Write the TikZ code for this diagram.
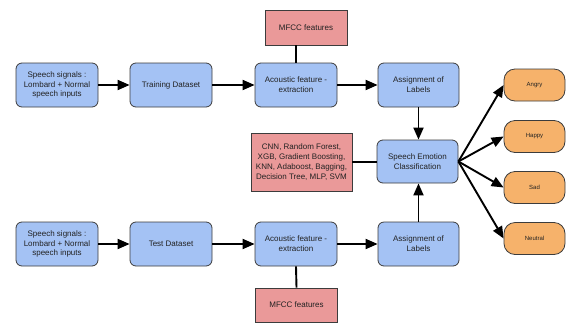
\documentclass[tikz,border=0pt]{standalone}
\usepackage{fontspec}
\setmainfont{Liberation Sans}
\usetikzlibrary{arrows.meta}
\definecolor{bluefill}{HTML}{A4C2F4}
\definecolor{redfill}{HTML}{EA9999}
\definecolor{orangefill}{HTML}{F6B26B}
\definecolor{edgegray}{HTML}{3C3C3C}
\definecolor{txt}{HTML}{222222}
\begin{document}
\begin{tikzpicture}[x=1pt,y=-1pt,
  bluebox/.style={draw=edgegray,line width=0.8pt,fill=bluefill,rounded corners=6pt,
    minimum width=82pt,minimum height=44pt,align=center,inner sep=1pt,
    font=\fontsize{8}{9.8}\selectfont,text=txt},
  redbox/.style={draw=edgegray,line width=0.8pt,fill=redfill,
    minimum width=82pt,minimum height=35pt,align=center,inner sep=1pt,
    font=\fontsize{8}{9.8}\selectfont,text=txt},
  emobox/.style={draw=edgegray,line width=0.8pt,fill=orangefill,rounded corners=11pt,
    minimum width=61pt,minimum height=32pt,align=center,inner sep=1pt,
    font=\fontsize{6}{7}\selectfont,text=txt},
  conn/.style={line width=1.9pt,black},
  arr/.style={conn,-{Triangle[length=12pt,width=10pt]}}]
\useasboundingbox (0,0) rectangle (568,325);
% top row
\node[bluebox] (s1) at (57,85) {Speech signals :\\Lombard + Normal\\speech inputs};
\node[bluebox] (td1) at (171,85) {Training Dataset};
\node[bluebox] (ac1) at (296,85) {Acoustic feature -\\extraction};
\node[bluebox,minimum width=81pt] (as1) at (418.5,85) {Assignment of\\Labels};
\node[redbox] (mf1) at (306,27.5) {MFCC features};
% middle
\node[redbox,minimum width=101pt,minimum height=58pt] (cnn) at (301.5,162) {CNN, Random Forest,\\XGB, Gradient Boosting,\\KNN, Adaboost, Bagging,\\Decision Tree, MLP, SVM};
\node[bluebox,minimum width=81pt,minimum height=43pt] (sec) at (417.5,161.5) {Speech Emotion\\Classification};
% bottom row
\node[bluebox] (s2) at (57,244) {Speech signals :\\Lombard + Normal\\speech inputs};
\node[bluebox] (td2) at (171,244) {Test Dataset};
\node[bluebox] (ac2) at (296,244) {Acoustic feature -\\extraction};
\node[bluebox,minimum width=81pt] (as2) at (418.5,244) {Assignment of\\Labels};
\node[redbox,minimum height=34pt] (mf2) at (296.5,305) {MFCC features};
% emotions
\node[emobox] (angry) at (534.5,85) {Angry};
\node[emobox] (happy) at (534.5,136.5) {Happy};
\node[emobox] (sad) at (534.5,187.5) {Sad};
\node[emobox] (neutral) at (534.5,238.5) {Neutral};
% connectors
\draw[arr] (s1) -- (td1);
\draw[arr] (td1) -- (ac1);
\draw[arr] (ac1) -- (as1);
\draw[conn] (ac1.north) -- (ac1.north |- mf1.south);
\draw[arr] (s2) -- (td2);
\draw[arr] (td2) -- (ac2);
\draw[arr] (ac2) -- (as2);
\draw[conn] (ac2.south) -- (mf2.north);
\draw[arr] (as1.south) -- (as1.south |- sec.north);
\draw[arr] (as2.north) -- (as2.north |- sec.south);
\draw[conn] (cnn.east) -- (cnn.east -| sec.west);
\draw[arr] (sec.east) -- (angry.west);
\draw[arr] (sec.east) -- (happy.west);
\draw[arr] (sec.east) -- (sad.west);
\draw[arr] (sec.east) -- (neutral.west);
\end{tikzpicture}
\end{document}
